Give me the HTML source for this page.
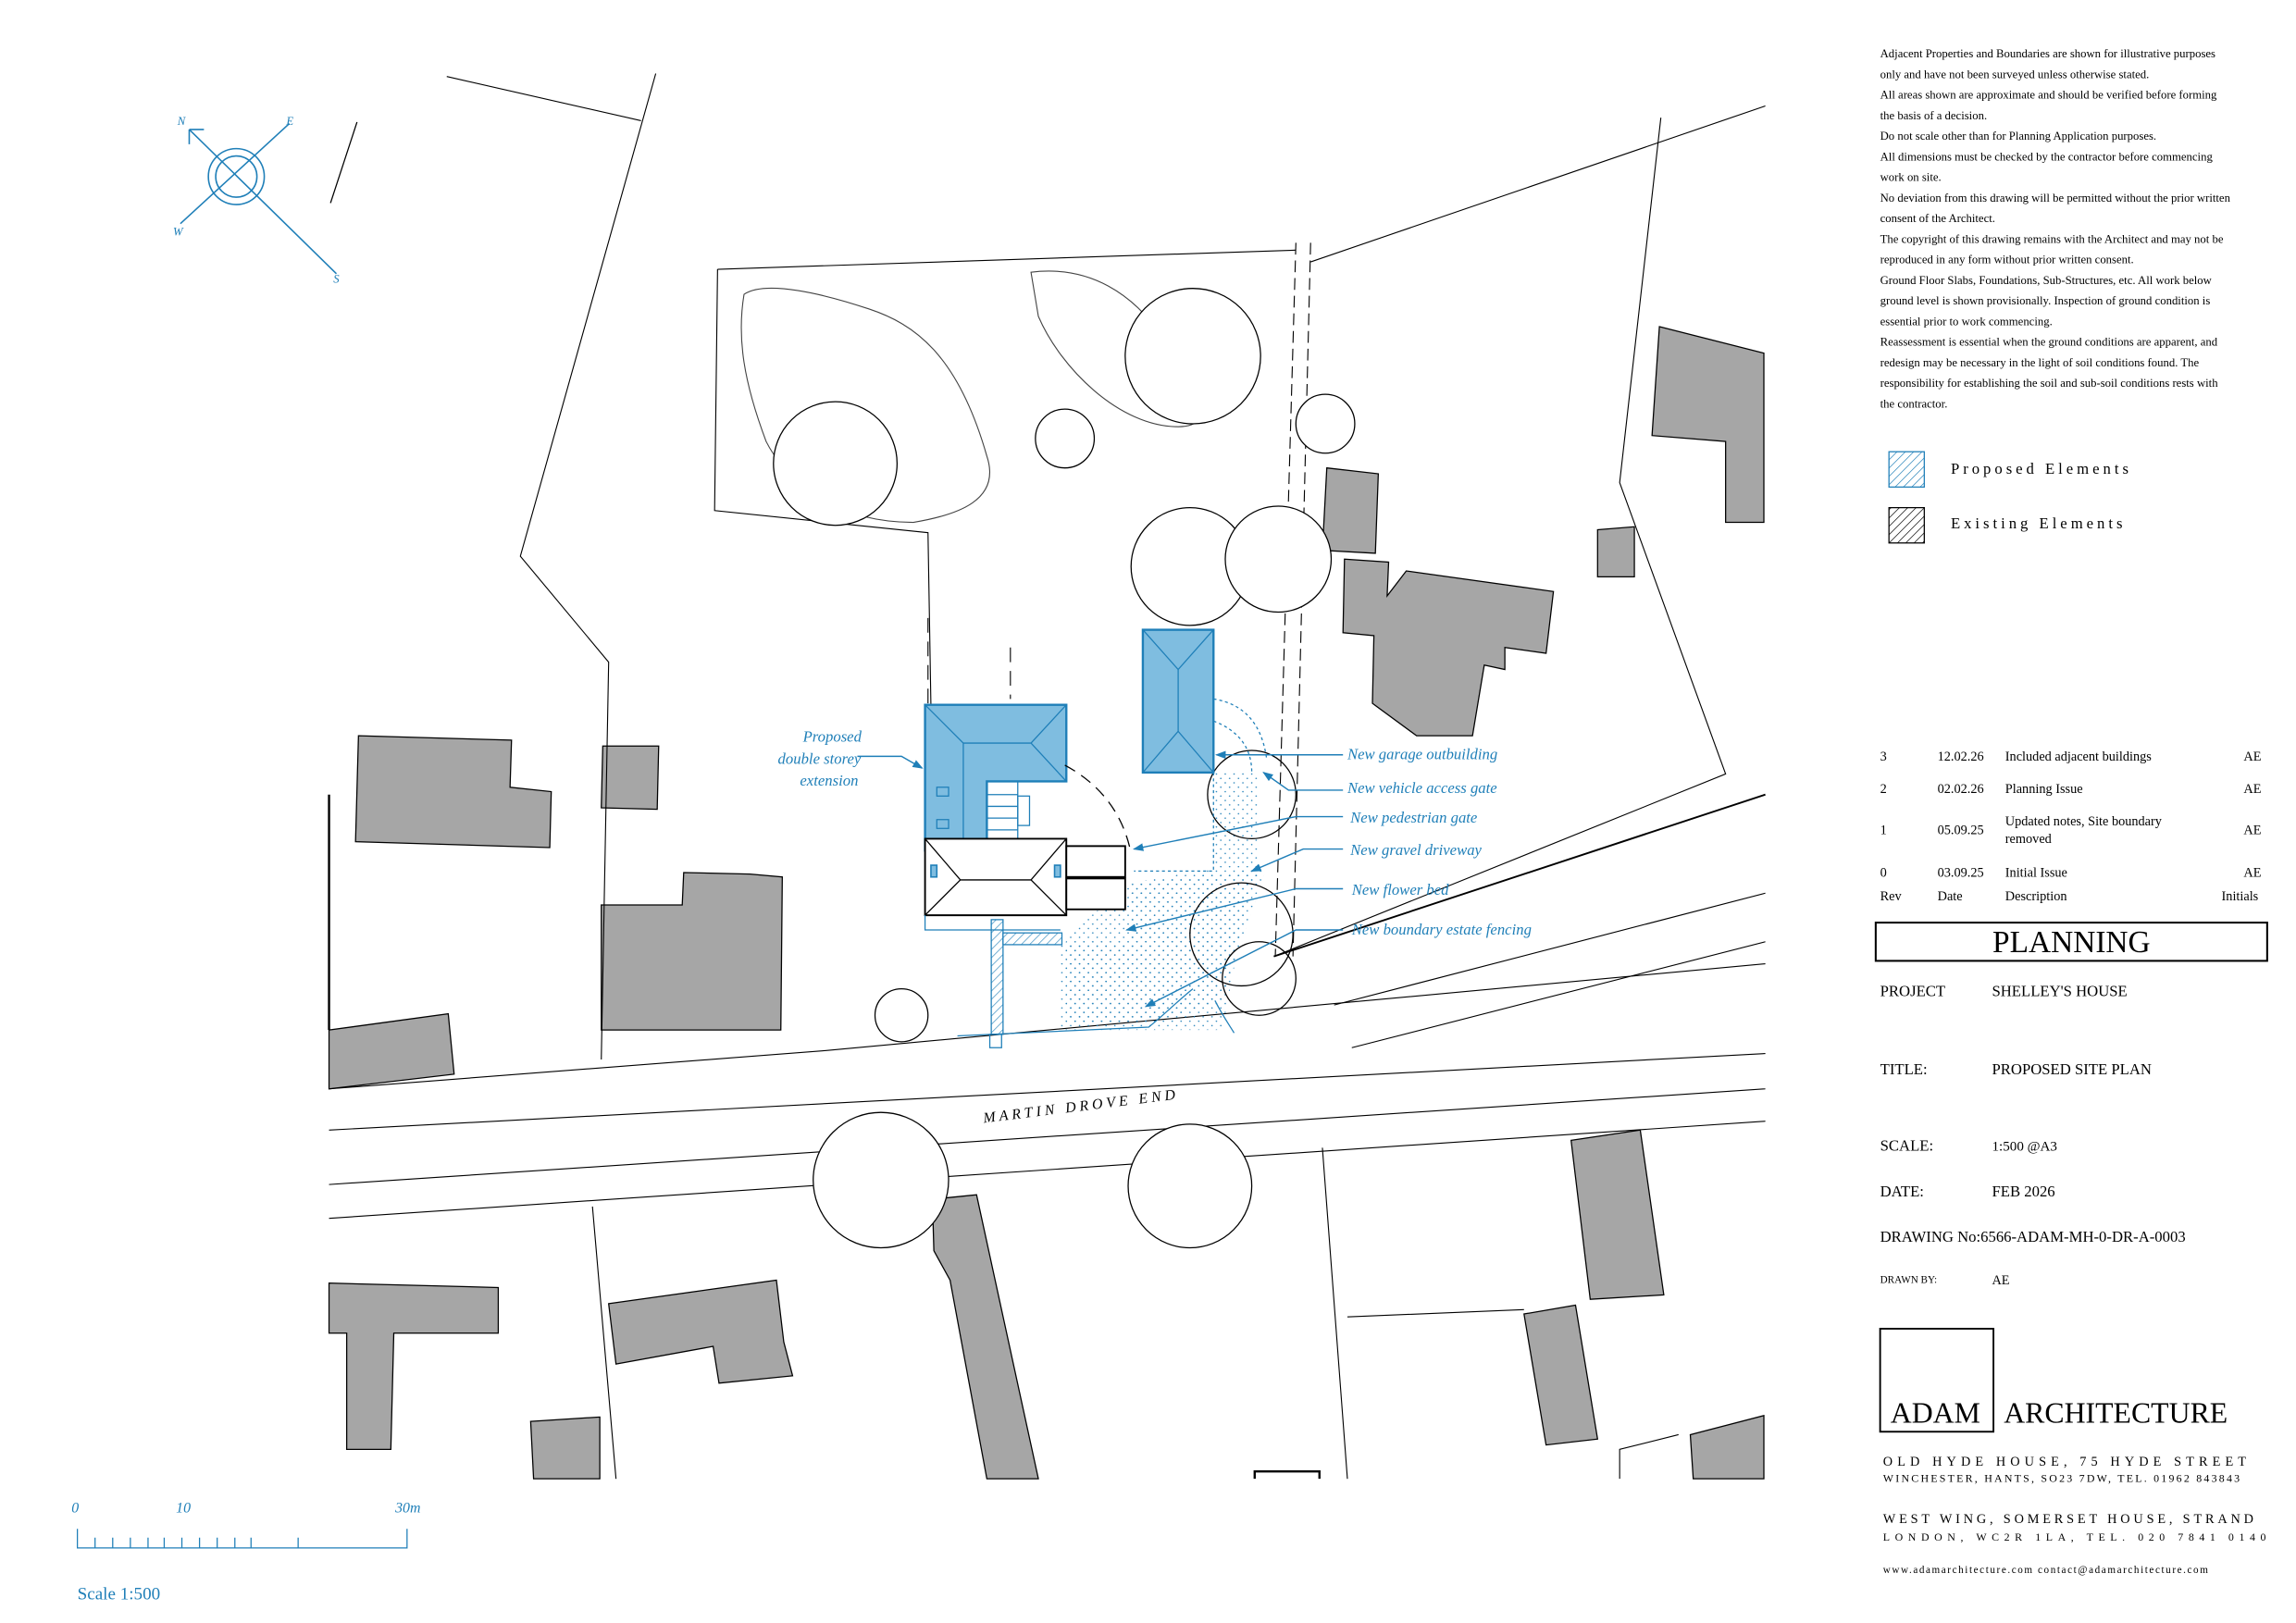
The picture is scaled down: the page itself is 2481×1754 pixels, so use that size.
<!DOCTYPE html>
<html><head><meta charset="utf-8"><style>
html,body{margin:0;padding:0;background:#fff}
svg{display:block}
text{font-family:"Liberation Serif",serif}
</style></head><body>
<svg width="2481" height="1754" viewBox="0 0 1559 1103" xmlns="http://www.w3.org/2000/svg">
<defs>
<pattern id="dots" width="6" height="6" patternUnits="userSpaceOnUse"><circle cx="1" cy="1" r="0.5" fill="#1f7fb8"/><circle cx="4" cy="4" r="0.5" fill="#1f7fb8"/></pattern>
<pattern id="hb" width="4" height="4" patternUnits="userSpaceOnUse" patternTransform="rotate(45)"><line x1="0" y1="0" x2="0" y2="4" stroke="#1f7fb8" stroke-width="0.8"/></pattern>
<pattern id="hk" width="4" height="4" patternUnits="userSpaceOnUse" patternTransform="rotate(45)"><line x1="0" y1="0" x2="0" y2="4" stroke="#000" stroke-width="0.8"/></pattern>
<marker id="ar" markerWidth="8" markerHeight="6" refX="7" refY="3" orient="auto"><path d="M0,0 L8,3 L0,6 z" fill="#1f7fb8"/></marker>
</defs>
<rect width="1559" height="1103" fill="#fff"/>
<g stroke="#1f7fb8" fill="none" stroke-width="1">
<circle cx="160" cy="120" r="19"/><circle cx="160" cy="120" r="14"/>
<line x1="128" y1="88" x2="228" y2="186"/><line x1="122" y1="152" x2="196" y2="84"/>
<path d="M128,88 l10,0 M128,88 l0,10"/>
</g>
<g fill="#1f7fb8" font-size="8" font-style="italic"><text x="120" y="85">N</text><text x="194" y="85">E</text><text x="117" y="160">W</text><text x="226" y="192">S</text></g>
<line x1="242" y1="83" x2="224" y2="138" stroke="#000" stroke-width="0.8"/>
<g fill="#a6a6a6" stroke="#000" stroke-width="0.8">
<path d="M243,500 L347,503 L346,535 L374,538 L373,576 L241,572 Z"/>
<path d="M409,507 L447,507 L446,550 L408,549 Z"/>
<path d="M464,593 L509,594 L531,596 L530,700 L408,700 L408,615 L463,615 Z"/>
<path d="M223,700 L304,689 L308,730 L223,740 Z"/>
<path d="M1127,222 L1198,240 L1198,355 L1172,355 L1172,300 L1122,296 Z"/>
<path d="M1085,360 L1110,358 L1110,392 L1085,392 Z"/>
<path d="M901,318 L936,322 L934,376 L898,374 Z"/>
<path d="M913,380 L943,382 L942,405 L955,388 L1055,402 L1050,444 L1022,440 L1022,455 L1008,452 L1000,500 L962,500 L932,478 L933,432 L912,430 Z"/>
<path d="M223,872 L338,875 L338,906 L267,906 L265,985 L235,985 L235,906 L223,906 Z"/>
<path d="M413,886 L527,870 L532,912 L538,935 L488,940 L484,915 L418,927 Z"/>
<path d="M360,966 L407,963 L407,1005 L362,1005 Z"/>
<path d="M633,815 L663,812 L705,1005 L670,1005 L645,870 L634,850 Z"/>
<path d="M1067,775 L1114,768 L1130,880 L1080,883 Z"/>
<path d="M1035,893 L1070,887 L1085,978 L1050,982 Z"/>
<path d="M1148,975 L1198,962 L1198,1005 L1150,1005 Z"/>
</g>
<path d="M852,1005 L852,1000 L896,1000 L896,1005" stroke="#000" fill="none" stroke-width="1.5"/>
<g stroke="#000" fill="none" stroke-width="0.7">
<path d="M303,52 L435,82"/>
<path d="M445,50 L353,378 L413,450 L408,720"/>
<path d="M223,740 L560,714 L1199,655"/>
<path d="M223,768 L1199,716"/>
<path d="M223,805 L1199,740"/>
<path d="M223,828 L1199,762"/>
<path d="M1199,72 L890,178"/>
<path d="M487,183 L880,170"/>
<path d="M487,183 L485,347 L630,362 L632,480"/>
<path d="M1128,80 L1100,328 L1172,526 L865,650"/>
<path d="M1199,540 L865,650" stroke-width="1.2"/>
<path d="M906,683 L1199,607 M918,712 L1199,640"/>
<path d="M402,820 L418,1005 M898,780 L915,1005 M915,895 L1035,890"/>
<path d="M1100,1005 L1100,985 L1140,975"/>
<path d="M505,200 C520,190 560,200 590,210 C620,220 650,240 670,310 C680,340 650,350 620,355 C560,355 530,320 520,300 C505,260 500,230 505,200 Z" stroke="#444"/>
<path d="M700,185 C740,180 770,200 790,230 C810,260 830,290 800,290 C760,290 720,250 705,215 Z" stroke="#444"/>
<path d="M880,165 L866,650 M890,165 L878,650" stroke-dasharray="8,4"/>
<path d="M630,420 L630,480 M686,440 L686,475" stroke-dasharray="10,6"/>
<path d="M223,540 L223,700" stroke-width="1.5"/>
</g>
<g stroke="#000" fill="#fff" stroke-width="0.8">
<circle cx="810" cy="242" r="46"/><circle cx="567" cy="315" r="42"/><circle cx="723" cy="298" r="20"/>
<circle cx="900" cy="288" r="20"/><circle cx="808" cy="385" r="40"/><circle cx="868" cy="380" r="36"/>
<circle cx="598" cy="802" r="46"/><circle cx="808" cy="806" r="42"/><circle cx="612" cy="690" r="18"/>
</g>
<path d="M768,600 L825,590 L825,525 L855,525 L855,600 L848,605 L830,700 L790,700 L768,700 L720,700 L720,640 L768,640 Z" fill="url(#dots)"/>
<path d="M724,635 L770,600 L860,590 L830,680 L780,695 L724,695 Z" fill="url(#dots)"/>
<g stroke="#000" fill="none" stroke-width="0.8">
<circle cx="850" cy="540" r="30"/><circle cx="843" cy="635" r="35"/><circle cx="855" cy="665" r="25"/>
</g>
<g stroke="#1f7fb8" stroke-width="1.5" fill="#7fbde0">
<path d="M628,479 L724,479 L724,531 L670,531 L670,578 L628,578 Z"/>
<rect x="776" y="428" width="48" height="97"/>
</g>
<g stroke="#1f7fb8" stroke-width="0.8" fill="none">
<path d="M628,479 L654,505 L700,505 L724,479 M700,505 L724,531 M654,505 L654,578 M776,428 L800,455 L824,428 M800,455 L800,497 M776,525 L800,497 L824,525"/>
<path d="M670,531 L691,531 L691,570 M670,540 L691,540 M670,548 L691,548 M670,556 L691,556 M670,564 L691,564"/>
<rect x="691" y="541" width="8" height="20"/>
<rect x="636" y="535" width="8" height="6"/><rect x="636" y="557" width="8" height="6"/>
</g>
<g stroke="#000" stroke-width="1.2" fill="#fff">
<path d="M628,570 L724,570 L724,622 L628,622 Z"/>
<path d="M628,622 L652,598 L700,598 L724,622 M652,598 L628,570 M700,598 L724,570" fill="none" stroke-width="0.8"/>
<rect x="724" y="575" width="40" height="21"/><rect x="724" y="597" width="40" height="21"/>
</g>
<rect x="632" y="588" width="4" height="8" fill="#7fbde0" stroke="#1f7fb8"/><rect x="716" y="588" width="4" height="8" fill="#7fbde0" stroke="#1f7fb8"/>
<g stroke="#1f7fb8" fill="none" stroke-width="0.8">
<rect x="673" y="625" width="8" height="78" fill="url(#hb)"/>
<rect x="681" y="634" width="40" height="8" fill="url(#hb)"/>
<path d="M628,622 L628,632 L720,632 M650,704 L780,698 C790,690 800,680 810,672 M825,680 C830,690 835,697 838,702"/>
<path d="M672,703 L680,703 L680,712 L672,712 Z"/>
<path d="M824,525 L824,592 L770,592 M824,475 Q855,480 860,515 M824,490 Q850,500 850,525" stroke-dasharray="2,2"/>
<path d="M723,520 Q760,540 768,580" stroke="#000" stroke-dasharray="8,5"/>
</g>
<g stroke="#1f7fb8" stroke-width="0.9" fill="none" marker-end="url(#ar)">
<path d="M582,514 L612,514 L626,522"/>
<path d="M912,513 L826,513"/>
<path d="M912,537 L875,537 L858,525"/>
<path d="M912,555 L880,555 L770,577"/>
<path d="M912,577 L885,577 L850,592"/>
<path d="M912,604 L880,604 L765,632"/>
<path d="M912,632 L880,632 L778,684"/>
</g>
<g fill="#1f7fb8" font-size="10.5" font-style="italic">
<text x="545" y="504">Proposed</text><text x="528" y="519">double storey</text><text x="543" y="534">extension</text>
<text x="915" y="516">New garage outbuilding</text>
<text x="915" y="539">New vehicle access gate</text>
<text x="917" y="559">New pedestrian gate</text>
<text x="917" y="581">New gravel driveway</text>
<text x="918" y="608">New flower bed</text>
<text x="918" y="635">New boundary estate fencing</text>
</g>
<text x="668" y="763" font-size="10" font-style="italic" letter-spacing="2.5" transform="rotate(-7 668 763)">MARTIN DROVE END</text>
<g stroke="#1f7fb8" stroke-width="0.8" fill="none">
<path d="M52,1039 L52,1052 L276,1052 L276,1039 M202,1045 L202,1052"/>
<path d="M64,1045V1052M76,1045V1052M88,1045V1052M100,1045V1052M111,1045V1052M123,1045V1052M135,1045V1052M147,1045V1052M159,1045V1052M170,1045V1052"/>
</g>
<g fill="#1f7fb8" font-size="10" font-style="italic"><text x="48" y="1028">0</text><text x="119" y="1028">10</text><text x="268" y="1028">30m</text></g>
<text x="52" y="1087" fill="#1f7fb8" font-size="12">Scale 1:500</text>
<g font-size="8" fill="#000">
<text x="1277" y="39">Adjacent Properties and Boundaries are shown for illustrative purposes</text>
<text x="1277" y="53">only and have not been surveyed unless otherwise stated.</text>
<text x="1277" y="67">All areas shown are approximate and should be verified before forming</text>
<text x="1277" y="81">the basis of a decision.</text>
<text x="1277" y="95">Do not scale other than for Planning Application purposes.</text>
<text x="1277" y="109">All dimensions must be checked by the contractor before commencing</text>
<text x="1277" y="123">work on site.</text>
<text x="1277" y="137">No deviation from this drawing will be permitted without the prior written</text>
<text x="1277" y="151">consent of the Architect.</text>
<text x="1277" y="165">The copyright of this drawing remains with the Architect and may not be</text>
<text x="1277" y="179">reproduced in any form without prior written consent.</text>
<text x="1277" y="193">Ground Floor Slabs, Foundations, Sub-Structures, etc. All work below</text>
<text x="1277" y="207">ground level is shown provisionally. Inspection of ground condition is</text>
<text x="1277" y="221">essential prior to work commencing.</text>
<text x="1277" y="235">Reassessment is essential when the ground conditions are apparent, and</text>
<text x="1277" y="249">redesign may be necessary in the light of soil conditions found.  The</text>
<text x="1277" y="263">responsibility for establishing the soil and sub-soil conditions rests with</text>
<text x="1277" y="277">the contractor.</text>
</g>
<rect x="1283" y="307" width="24" height="24" fill="url(#hb)" stroke="#1f7fb8" stroke-width="0.8"/>
<rect x="1283" y="345" width="24" height="24" fill="url(#hk)" stroke="#000" stroke-width="0.8"/>
<text x="1325" y="322" font-size="10.5" letter-spacing="2.5">Proposed Elements</text>
<text x="1325" y="359" font-size="10.5" letter-spacing="2.5">Existing Elements</text>
<g font-size="9" fill="#000">
<text x="1277" y="517">3</text><text x="1316" y="517">12.02.26</text><text x="1362" y="517">Included adjacent buildings</text><text x="1524" y="517">AE</text>
<text x="1277" y="539">2</text><text x="1316" y="539">02.02.26</text><text x="1362" y="539">Planning Issue</text><text x="1524" y="539">AE</text>
<text x="1277" y="567">1</text><text x="1316" y="567">05.09.25</text><text x="1362" y="561">Updated notes, Site boundary</text><text x="1362" y="573">removed</text><text x="1524" y="567">AE</text>
<text x="1277" y="596">0</text><text x="1316" y="596">03.09.25</text><text x="1362" y="596">Initial Issue</text><text x="1524" y="596">AE</text>
<text x="1277" y="612">Rev</text><text x="1316" y="612">Date</text><text x="1362" y="612">Description</text><text x="1509" y="612">Initials</text>
</g>
<rect x="1274" y="627" width="266" height="26" fill="none" stroke="#000" stroke-width="1.3"/>
<text x="1407" y="647" font-size="21" text-anchor="middle">PLANNING</text>
<g font-size="10.5" fill="#000">
<text x="1277" y="677">PROJECT</text><text x="1353" y="677">SHELLEY'S HOUSE</text>
<text x="1277" y="730">TITLE:</text><text x="1353" y="730">PROPOSED SITE PLAN</text>
<text x="1277" y="782">SCALE:</text><text x="1353" y="782" font-size="9.5">1:500 @A3</text>
<text x="1277" y="813">DATE:</text><text x="1353" y="813">FEB 2026</text>
<text x="1277" y="844">DRAWING No:6566-ADAM-MH-0-DR-A-0003</text>
<text x="1277" y="872" font-size="7">DRAWN BY:</text><text x="1353" y="873" font-size="9">AE</text>
</g>
<rect x="1277" y="903" width="77" height="70" fill="none" stroke="#000" stroke-width="1.2"/>
<text x="1284" y="967" font-size="20">ADAM</text>
<text x="1361" y="967" font-size="20">ARCHITECTURE</text>
<g font-size="9" fill="#000">
<text x="1279" y="996" letter-spacing="3.2">OLD HYDE HOUSE, 75 HYDE STREET</text>
<text x="1279" y="1007" font-size="7.5" letter-spacing="1.4">WINCHESTER, HANTS, SO23 7DW, TEL. 01962 843843</text>
<text x="1279" y="1035" letter-spacing="2.4">WEST WING, SOMERSET HOUSE, STRAND</text>
<text x="1279" y="1047" font-size="7.5" letter-spacing="3.5">LONDON, WC2R 1LA, TEL. 020 7841 0140</text>
<text x="1279" y="1069" font-size="7" letter-spacing="1">www.adamarchitecture.com   contact@adamarchitecture.com</text>
</g>
</svg>
</body></html>
